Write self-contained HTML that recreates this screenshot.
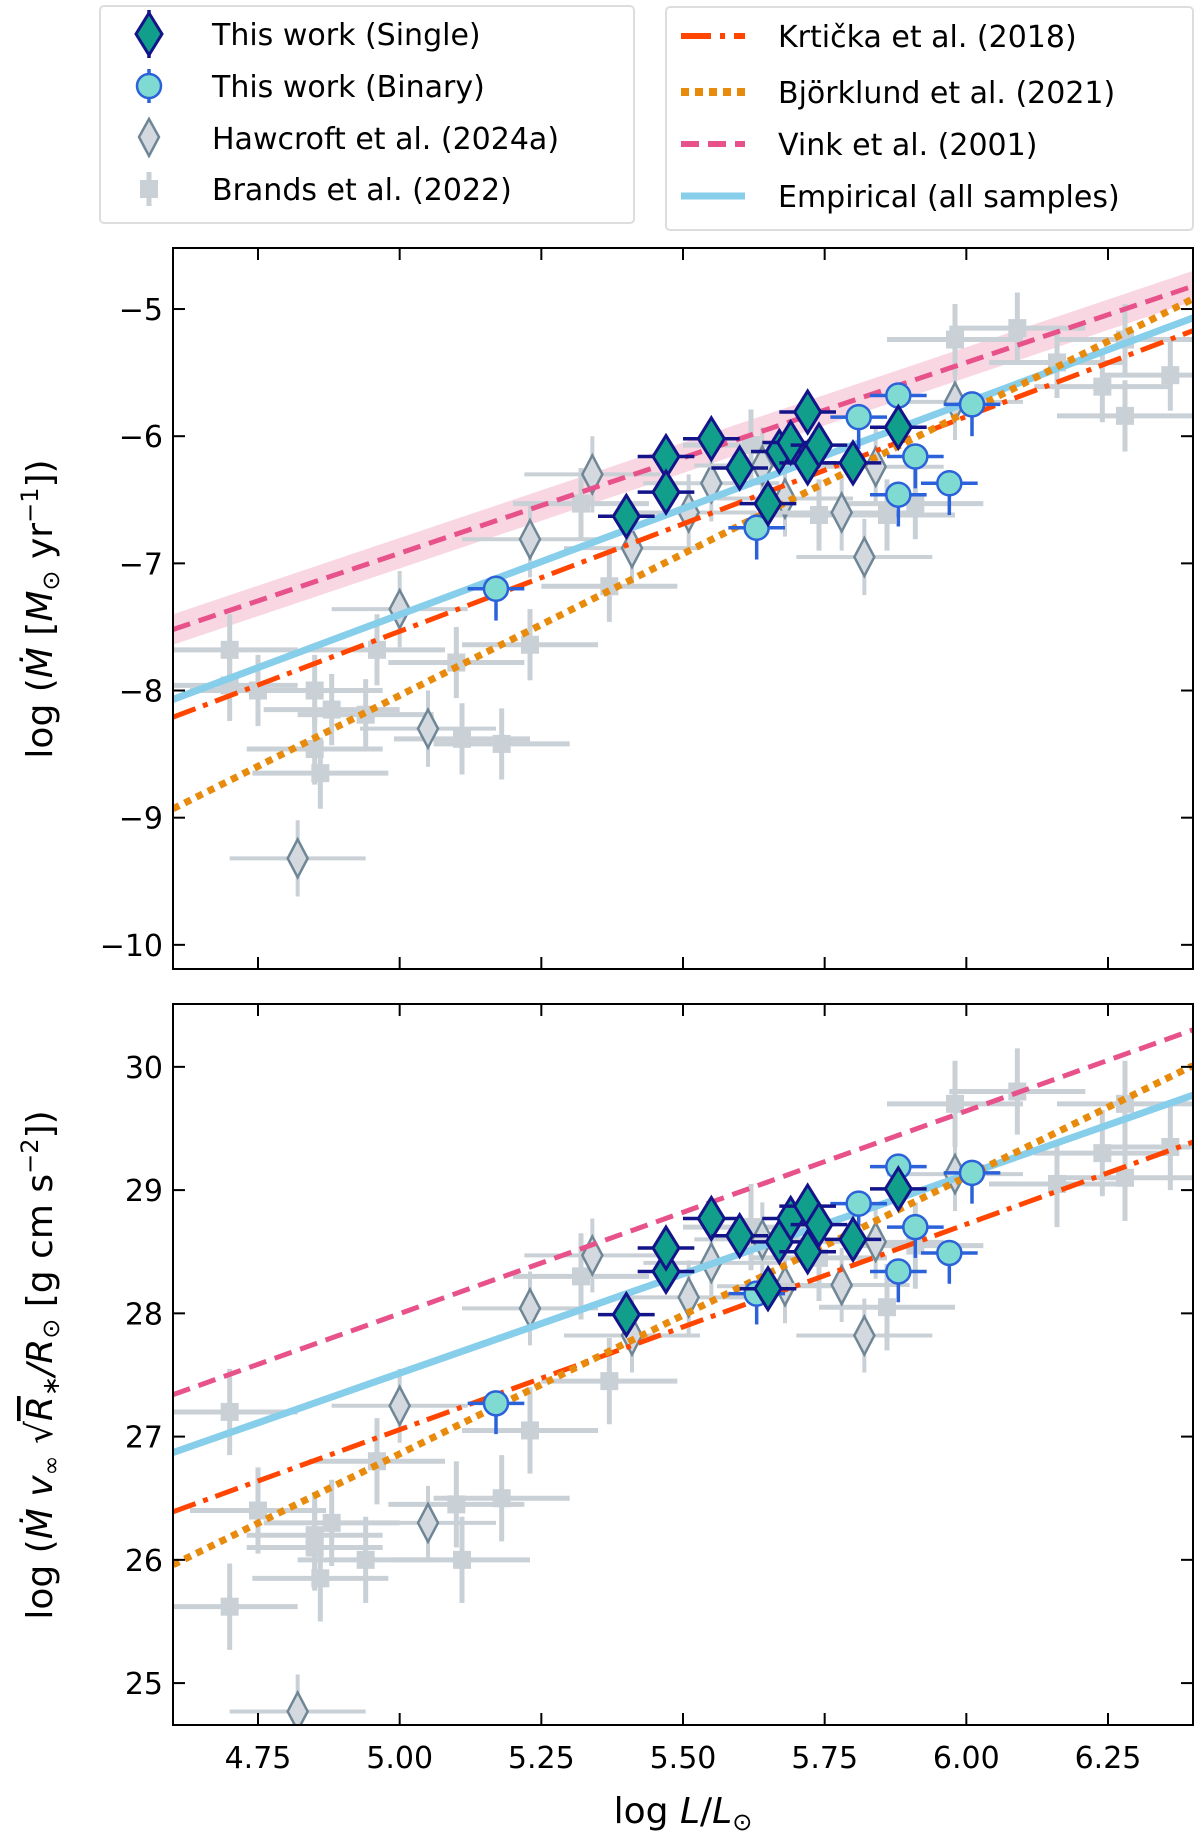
<!DOCTYPE html>
<html><head><meta charset="utf-8"><style>
body{margin:0;background:#fff;}
svg{display:block;font-family:"DejaVu Sans","Liberation Sans",sans-serif;}
</style></head><body>
<svg id="fig" width="1200" height="1835" viewBox="0 0 1200 1835" xmlns="http://www.w3.org/2000/svg"></svg>
<script>
// ---------- data ----------
const singleL   = [5.40,5.47,5.47,5.55,5.60,5.65,5.67,5.69,5.72,5.72,5.74,5.80,5.88];
const singleM   = [-6.63,-6.16,-6.44,-6.02,-6.25,-6.53,-6.12,-6.05,-5.81,-6.21,-6.07,-6.21,-5.93];
const singleD   = [27.99,28.34,28.53,28.77,28.63,28.20,28.58,28.77,28.87,28.50,28.72,28.60,29.01];
const binaryL   = [5.17,5.63,5.81,5.88,5.91,5.88,5.97,6.01];
const binaryM   = [-7.20,-6.72,-5.85,-5.68,-6.16,-6.46,-6.37,-5.75];
const binaryD   = [27.27,28.16,28.89,29.19,28.70,28.34,28.49,29.14];
const hawL      = [5.34,5.23,5.00,5.05,4.82,5.41,5.51,5.55,5.64,5.68,5.78,5.84,5.82,5.98];
const hawM      = [-6.30,-6.81,-7.36,-8.30,-9.32,-6.88,-6.60,-6.37,-6.23,-6.49,-6.60,-6.24,-6.95,-5.73];
const hawD      = [28.47,28.04,27.25,26.30,24.77,27.82,28.13,28.41,28.60,28.22,28.23,28.58,27.82,29.13];
const brandsL   = [4.70,4.70,4.75,4.85,4.88,4.86,4.96,5.10,5.11,5.18,5.23,5.37,5.32,5.62,5.86,5.98,6.09,6.16,6.24,6.28,6.36,6.28,5.91,5.74,4.85,4.94];
const brandsM   = [-7.68,-7.96,-8.00,-8.00,-8.15,-8.65,-7.68,-7.78,-8.38,-8.42,-7.64,-7.18,-6.53,-6.07,-6.62,-5.24,-5.15,-5.42,-5.61,-5.84,-5.52,-5.24,-6.53,-6.62,-8.46,-8.19];
const brandsD   = [27.20,25.62,26.40,26.10,26.30,25.85,26.80,26.45,26.00,26.50,27.05,27.45,28.30,28.70,28.05,29.70,29.80,29.05,29.30,29.10,29.35,29.70,28.55,28.45,26.20,26.00];
const lineNames = ["empirical","krticka","bjorklund","vink"];
const lineM0    = [-8.07,-8.21,-8.93,-7.52];   // at log L = 4.6
const lineM1    = [-5.07,-5.17,-4.92,-4.82];   // at log L = 6.4
const lineD0    = [26.87,26.39,25.96,27.34];
const lineD1    = [29.77,29.39,30.01,30.30];
const xTicks    = [4.75,5.00,5.25,5.50,5.75,6.00,6.25];
const xTickLabels = ["4.75","5.00","5.25","5.50","5.75","6.00","6.25"];
const yTicksTop = [-5,-6,-7,-8,-9,-10];
const yTicksBot = [25,26,27,28,29,30];

// ---------- helpers ----------
const NS="http://www.w3.org/2000/svg";
const svg=document.getElementById('fig');
function mk(tag,attrs,parent){const e=document.createElementNS(NS,tag);for(const k in attrs)e.setAttribute(k,attrs[k]);(parent||svg).appendChild(e);return e;}
const X0=173,X1=1193,L0=4.6,L1=6.4;
const xs=v=>X0+(v-L0)/(L1-L0)*(X1-X0);
function panel(top,bottom,vTop,vBot){return {top,bottom,y:v=>top+(vTop-v)/(vTop-vBot)*(bottom-top)};}
const P1=panel(248,969,-4.52,-10.19);
const P2=panel(1004,1725,30.51,24.66);
const styles={
 empirical:{stroke:"#87ceeb",w:7,dash:""},
 krticka:{stroke:"#ff4500",w:5,dash:"24,8,5,8"},
 bjorklund:{stroke:"#e88a0c",w:7,dash:"7,6"},
 vink:{stroke:"#e8528a",w:5,dash:"18,9"}
};

function drawPanel(P,name){
 const g=mk('g',{},svg);
 
 
 const clipId=name+'-clip';
 const cp=mk('clipPath',{id:clipId},g);
 mk('rect',{x:X0,y:P.top,width:X1-X0,height:P.bottom-P.top},cp);
 const plot=mk('g',{'clip-path':'url(#'+clipId+')'},g);
 const isTop=name==='top-panel';
 const M0=isTop?lineM0:lineD0, M1=isTop?lineM1:lineD1;
 if(isTop){
  const i=lineNames.indexOf('vink');
  const band=mk('polygon',{points:`${xs(L0)},${P.y(M0[i]+0.12)} ${xs(L1)},${P.y(M1[i]+0.12)} ${xs(L1)},${P.y(M1[i]-0.12)} ${xs(L0)},${P.y(M0[i]-0.12)}`,fill:"#f7c6d6",opacity:0.7},plot);
  
  
 }
 const mv=isTop?brandsM:brandsD, hv=isTop?hawM:hawD, sv=isTop?singleM:singleD, bv=isTop?binaryM:binaryD;
 const ey=isTop?0.28:0.35;
 brandsL.forEach((l,i)=>{
  const cx=xs(l),cy=P.y(mv[i]);
  const e=mk('g',{},plot);
  
  
  mk('line',{x1:xs(l-0.12),x2:xs(l+0.12),y1:cy,y2:cy,stroke:"#c9d0d6","stroke-width":5},e);
  mk('line',{x1:cx,x2:cx,y1:P.y(mv[i]+ey),y2:P.y(mv[i]-ey),stroke:"#c9d0d6","stroke-width":5},e);
  mk('rect',{x:cx-9,y:cy-9,width:18,height:18,fill:"#c9d0d6"},e);
 });
 hawL.forEach((l,i)=>{
  const cx=xs(l),cy=P.y(hv[i]);
  const e=mk('g',{},plot);
  
  
  mk('line',{x1:xs(l-0.12),x2:xs(l+0.12),y1:cy,y2:cy,stroke:"#c9d0d6","stroke-width":4},e);
  mk('line',{x1:cx,x2:cx,y1:P.y(hv[i]+0.3),y2:P.y(hv[i]-0.3),stroke:"#c9d0d6","stroke-width":4},e);
  mk('polygon',{points:`${cx},${cy-19} ${cx+10},${cy} ${cx},${cy+19} ${cx-10},${cy}`,fill:"#d3d9de",stroke:"#6f8696","stroke-width":2.5},e);
 });
 lineNames.forEach((n,i)=>{
  const s=styles[n];
  const ln=mk('line',{x1:xs(L0),y1:P.y(M0[i]),x2:xs(L1),y2:P.y(M1[i]),stroke:s.stroke,"stroke-width":s.w,"stroke-dasharray":s.dash},plot);
  
  
 });
 binaryL.forEach((l,i)=>{
  const cx=xs(l),cy=P.y(bv[i]);
  const e=mk('g',{},plot);
  
  
  mk('line',{x1:xs(l-0.05),x2:xs(l+0.05),y1:cy,y2:cy,stroke:"#2b62d9","stroke-width":3.5},e);
  mk('line',{x1:cx,x2:cx,y1:P.y(bv[i]+0.1),y2:P.y(bv[i]-0.25),stroke:"#2b62d9","stroke-width":3.5},e);
  mk('circle',{cx,cy,r:12,fill:"#7fdbd1",stroke:"#2b62d9","stroke-width":2.5},e);
 });
 singleL.forEach((l,i)=>{
  const cx=xs(l),cy=P.y(sv[i]);
  const e=mk('g',{},plot);
  
  
  mk('line',{x1:xs(l-0.05),x2:xs(l+0.05),y1:cy,y2:cy,stroke:"#14148a","stroke-width":3.5},e);
  mk('line',{x1:cx,x2:cx,y1:P.y(sv[i]+0.15),y2:P.y(sv[i]-0.15),stroke:"#14148a","stroke-width":3.5},e);
  mk('polygon',{points:`${cx},${cy-21} ${cx+13},${cy} ${cx},${cy+21} ${cx-13},${cy}`,fill:"#119e8a",stroke:"#14148a","stroke-width":3},e);
 });
 mk('rect',{x:X0,y:P.top,width:X1-X0,height:P.bottom-P.top,fill:"none",stroke:"#000","stroke-width":2},g);
 xTicks.forEach((t,i)=>{
  const x=xs(t);
  mk('line',{x1:x,x2:x,y1:P.bottom,y2:P.bottom-12,stroke:"#000","stroke-width":2},g);
  mk('line',{x1:x,x2:x,y1:P.top,y2:P.top+12,stroke:"#000","stroke-width":2},g);
  if(!isTop){const tx=mk('text',{x:x,y:P.bottom+43,"text-anchor":"middle","font-size":30},g);tx.textContent=xTickLabels[i];
   }
 });
 (isTop?yTicksTop:yTicksBot).forEach(t=>{
  const y=P.y(t);
  mk('line',{x1:X0,x2:X0+12,y1:y,y2:y,stroke:"#000","stroke-width":2},g);
  mk('line',{x1:X1,x2:X1-12,y1:y,y2:y,stroke:"#000","stroke-width":2},g);
  const tx=mk('text',{x:X0-10,y:y+11,"text-anchor":"end","font-size":30},g);
  tx.textContent=t<0?'\u2212'+Math.abs(t):String(t);
  
 });
}
drawPanel(P1,'top-panel');
drawPanel(P2,'bottom-panel');
</script>
<svg style="position:absolute;left:0;top:0" width="1200" height="1835" xmlns="http://www.w3.org/2000/svg" font-family="DejaVu Sans, Liberation Sans, sans-serif">
 <text transform="translate(52,609) rotate(-90)" text-anchor="middle" font-size="36">log (<tspan font-style="italic">Ṁ</tspan> [<tspan font-style="italic">M</tspan><tspan font-size="24" dy="7">⊙</tspan><tspan dy="-7"> yr</tspan><tspan font-size="24" dy="-14">−1</tspan><tspan dy="14">])</tspan></text>
 <text transform="translate(52,1365) rotate(-90)" text-anchor="middle" font-size="36">log (<tspan font-style="italic">Ṁ v</tspan><tspan font-size="24" dy="7">∞</tspan><tspan dy="-7"> √</tspan><tspan font-style="italic" text-decoration="overline">R</tspan><tspan font-size="24" dy="7">∗</tspan><tspan dy="-7" font-style="italic">/R</tspan><tspan font-size="24" dy="7">⊙</tspan><tspan dy="-7">   [g cm s</tspan><tspan font-size="24" dy="-14">−2</tspan><tspan dy="14">])</tspan></text>
 <text x="683" y="1823" text-anchor="middle" font-size="36">log <tspan font-style="italic">L</tspan>/<tspan font-style="italic">L</tspan><tspan font-size="24" dy="7">⊙</tspan></text>

 <g>
  <rect x="100" y="6" width="534" height="217" rx="4" fill="#fff" stroke="#ddd" stroke-width="2"/>
  <g>
   <line x1="149" x2="149" y1="10" y2="58" stroke="#14148a" stroke-width="3.5"/><line x1="137" x2="161" y1="34" y2="34" stroke="#14148a" stroke-width="3.5"/>
   <polygon points="149,13 162,34 149,55 136,34" fill="#119e8a" stroke="#14148a" stroke-width="3"/>
   <text x="212" y="45" font-size="30">This work (Single)</text></g>
  <g>
   <line x1="149" x2="149" y1="69" y2="103" stroke="#2b62d9" stroke-width="3.5"/>
   <circle cx="149" cy="86" r="12" fill="#7fdbd1" stroke="#2b62d9" stroke-width="2.5"/>
   <text x="212" y="97" font-size="30">This work (Binary)</text></g>
  <g>
   <polygon points="149,119 159,137 149,156 139,137" fill="#d3d9de" stroke="#6f8696" stroke-width="2.5"/>
   <text x="212" y="149" font-size="30">Hawcroft et al. (2024a)</text></g>
  <g>
   <line x1="149" x2="149" y1="172" y2="206" stroke="#c9d0d6" stroke-width="5"/>
   <rect x="140" y="180" width="18" height="18" fill="#c9d0d6"/>
   <text x="212" y="200" font-size="30">Brands et al. (2022)</text></g>
 </g>
 <g>
  <rect x="666" y="7" width="527" height="223" rx="4" fill="#fff" stroke="#ddd" stroke-width="2"/>
  <g><line x1="681" x2="745" y1="36" y2="36" stroke="#ff4500" stroke-width="6" stroke-dasharray="30,9,5,9"/><text x="778" y="47" font-size="30">Krtička et al. (2018)</text></g>
  <g><line x1="681" x2="745" y1="92" y2="92" stroke="#e88a0c" stroke-width="8" stroke-dasharray="8,6"/><text x="778" y="103" font-size="30">Björklund et al. (2021)</text></g>
  <g><line x1="681" x2="745" y1="144" y2="144" stroke="#e8528a" stroke-width="6" stroke-dasharray="18,9"/><text x="778" y="155" font-size="30">Vink et al. (2001)</text></g>
  <g><line x1="681" x2="745" y1="196" y2="196" stroke="#87ceeb" stroke-width="7"/><text x="778" y="207" font-size="30">Empirical (all samples)</text></g>
 </g>
</svg>
</body></html>
